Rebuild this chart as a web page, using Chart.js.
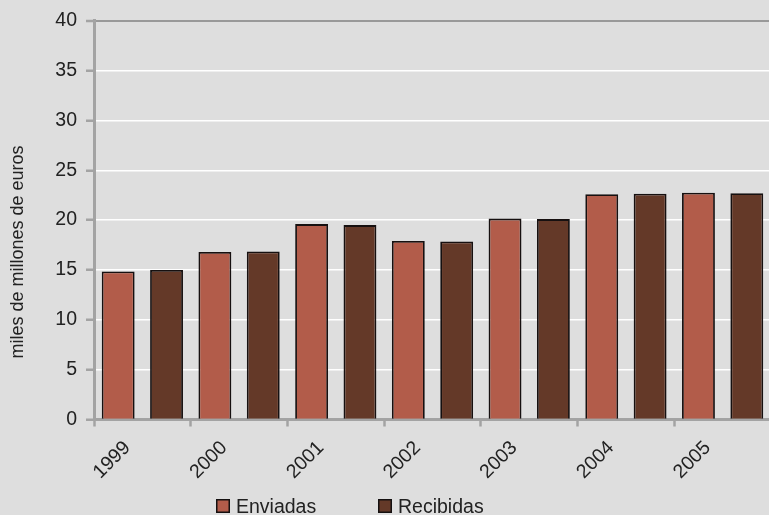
<!DOCTYPE html>
<html>
<head>
<meta charset="utf-8">
<script src="https://cdn.jsdelivr.net/npm/chart.js@4"></script>
<style>
  html, body { margin: 0; padding: 0; overflow: hidden; background: #dedede; }
  #wrap { position: relative; width: 771px; height: 515px; }
</style>
</head>
<body>
<div id="wrap"><canvas id="c"></canvas></div>
<script>
// Remesas enviadas y recibidas, miles de millones de euros
const years = ['1999', '2000', '2001', '2002', '2003', '2004', '2005'];
const enviadas = [14.85, 16.8, 19.6, 17.9, 20.15, 22.6, 22.75];
const recibidas = [15.0, 16.85, 19.5, 17.85, 20.1, 22.65, 22.7];
const seriesNames = ['Enviadas', 'Recibidas'];
const yMin = 0, yMax = 40, yStep = 5;
const yTitle = 'miles de millones de euros';

const FONT = '"Liberation Sans", Arial, sans-serif';
const AXIS_GRAY = '#a3a3a3';
const TEXT = '#222222';

const background = {
  id: 'background',
  beforeDraw(chart) {
    const { ctx, width, height } = chart;
    ctx.save();
    ctx.fillStyle = '#dedede';
    ctx.fillRect(0, 0, width, height);
    ctx.restore();
  }
};

// vertical axis caption, placed a little below the middle of the plot
const sideTitle = {
  id: 'sideTitle',
  afterDraw(chart) {
    const ctx = chart.ctx;
    ctx.save();
    ctx.translate(18, 252);
    ctx.rotate(-Math.PI / 2);
    ctx.font = '18px ' + FONT;
    ctx.fillStyle = TEXT;
    ctx.textAlign = 'center';
    ctx.textBaseline = 'middle';
    ctx.fillText(yTitle, 0, 0);
    ctx.restore();
  }
};

// legend row under the axis labels
const bottomLegend = {
  id: 'bottomLegend',
  afterDraw(chart) {
    const ctx = chart.ctx;
    const startX = 216, pitch = 162, boxTop = 499, box = 14;
    ctx.save();
    ctx.font = '19.5px ' + FONT;
    ctx.textBaseline = 'alphabetic';
    chart.data.datasets.forEach((ds, i) => {
      const x = startX + i * pitch;
      ctx.fillStyle = ds.backgroundColor;
      ctx.fillRect(x, boxTop, box, box);
      ctx.strokeStyle = '#141010';
      ctx.lineWidth = 1.5;
      ctx.strokeRect(x + 0.75, boxTop + 0.75, box - 1.5, box - 1.5);
      ctx.fillStyle = TEXT;
      ctx.fillText(ds.label, x + box + 6, boxTop + 13.5);
    });
    ctx.restore();
  }
};

new Chart(document.getElementById('c'), {
  type: 'bar',
  data: {
    labels: years,
    datasets: [
      {
        label: seriesNames[0],
        data: enviadas,
        backgroundColor: '#b25c4a',
        borderColor: '#161010',
        borderWidth: 1.8,
        categoryPercentage: 1.0,
        barPercentage: 0.68
      },
      {
        label: seriesNames[1],
        data: recibidas,
        backgroundColor: '#643928',
        borderColor: '#161010',
        borderWidth: 1.8,
        categoryPercentage: 1.0,
        barPercentage: 0.68
      }
    ]
  },
  options: {
    responsive: true,
    maintainAspectRatio: false,
    animation: false,
    devicePixelRatio: 1,
    layout: { padding: { top: 19.5, left: 0, right: 0, bottom: 0 } },
    plugins: {
      legend: { display: false },
      tooltip: { enabled: false }
    },
    scales: {
      x: {
        grid: {
          offset: true,
          drawOnChartArea: false,
          tickLength: 7,
          tickColor: AXIS_GRAY,
          tickWidth: 2.5
        },
        border: { color: AXIS_GRAY, width: 3 },
        ticks: {
          autoSkip: false,
          minRotation: 45,
          maxRotation: 45,
          labelOffset: -15,
          padding: 10,
          color: TEXT,
          font: { family: FONT, size: 19.5 }
        },
        afterFit(scale) { scale.height = 95.5; }
      },
      y: {
        min: yMin,
        max: yMax,
        ticks: {
          stepSize: yStep,
          padding: 9,
          color: TEXT,
          font: { family: FONT, size: 19.5 }
        },
        grid: {
          color: (c) => (c.tick && c.tick.value === yMax ? '#999999' : '#ffffff'),
          lineWidth: (c) => (c.tick && c.tick.value === yMax ? 2 : 1.5),
          tickColor: AXIS_GRAY,
          tickLength: 8,
          tickWidth: 2.5
        },
        border: { color: AXIS_GRAY, width: 3 },
        afterFit(scale) { scale.width = 94; }
      }
    }
  },
  plugins: [background, sideTitle, bottomLegend]
});
</script>
</body>
</html>
